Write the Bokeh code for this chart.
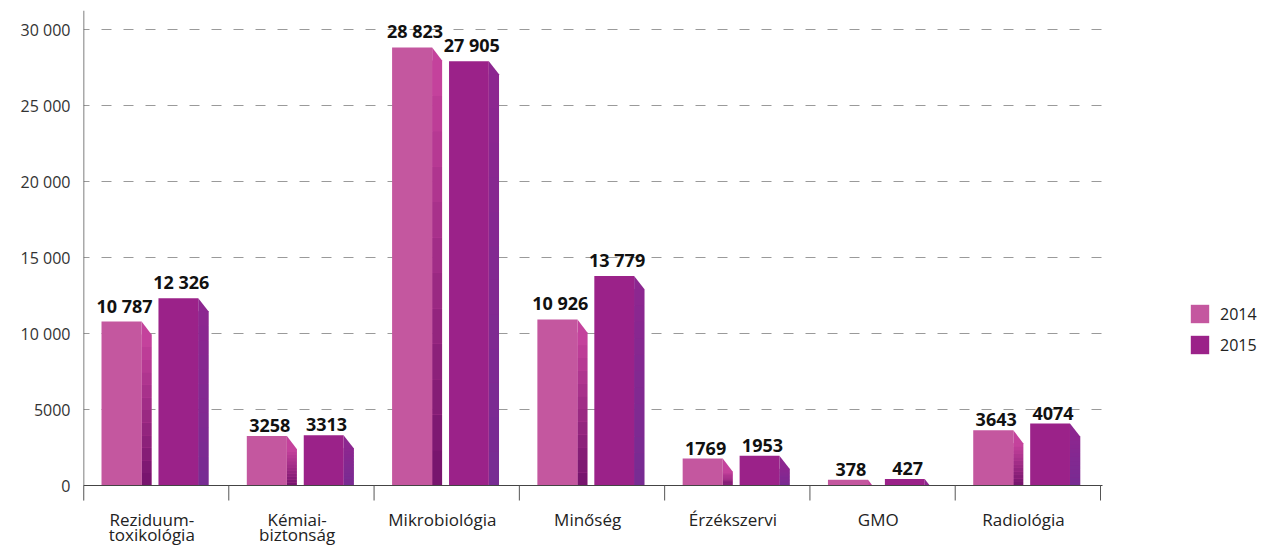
from bokeh.plotting import figure
from bokeh.models import Range1d, FixedTicker, ColumnDataSource, Legend, LegendItem
from bokeh.core.properties import value
from bokeh.embed import file_html
from bokeh.resources import INLINE

# ---------------- data ----------------
categories = ["Reziduum-\ntoxikológia", "Kémiai-\nbiztonság", "Mikrobiológia", "Minőség",
              "Érzékszervi", "GMO", "Radiológia"]
values_2014 = [10787, 3258, 28823, 10926, 1769, 378, 3643]
values_2015 = [12326, 3313, 27905, 13779, 1953, 427, 4074]
series_names = ["2014", "2015"]
y_ticks = [0, 5000, 10000, 15000, 20000, 25000, 30000]

FONT = "Open Sans"

# ---------------- layout constants (pixels) ----------------
W, H = 1262, 549
frame_left = 83
frame_top = 10
zero_y = 485                                # y of value 0
axis_right = 1102
top_val = 31250
px_per_unit = (zero_y - frame_top) / top_val
y_start = -(H - zero_y) / px_per_unit
n = len(categories)
px_per_x = (1100 - 83) / n
x_axis_end = (axis_right - frame_left) / px_per_x
x_end = (W - frame_left) / px_per_x

def fmt(v):
    s = str(v)
    if v >= 10000:
        s = s[:-3] + " " + s[-3:]
    return s

p = figure(width=W, height=H, output_backend="svg", toolbar_location=None,
           x_range=Range1d(0, x_end), y_range=Range1d(y_start, top_val),
           min_border_left=frame_left, min_border_right=0,
           min_border_top=frame_top, min_border_bottom=0)
p.outline_line_color = None
p.background_fill_color = "white"
p.xaxis.visible = False
p.xgrid.visible = False
p.ygrid.visible = False

# y axis
ya = p.yaxis[0]
ya.ticker = FixedTicker(ticks=y_ticks)
ya.major_label_overrides = {t: fmt(t) if t >= 10000 else str(t) for t in y_ticks}
ya.axis_line_color = None
ya.major_tick_line_color = None
ya.major_tick_out = 0
ya.major_tick_in = 0
ya.minor_tick_line_color = None
ya.major_label_standoff = 13
ya.major_label_text_font = FONT
ya.major_label_text_font_size = "16px"
ya.major_label_text_color = "#333333"

# dashed horizontal grid lines (stop at the end of the x axis)
gy = y_ticks[1:]
p.segment(x0=[0] * len(gy), y0=gy, x1=[x_axis_end] * len(gy), y1=gy,
          line_color="#9a9a9a", line_width=1, line_dash="10 12", line_dash_offset=4)

# bar geometry in x units (relative to category start)
geom = [(0.124, 0.40, 0.468), (0.516, 0.79, 0.86)]
front_colors = ["#C4579F", "#9B2289"]
side_top = [(0xC4, 0x42, 0x9C), (0x8C, 0x27, 0x90)]
side_bot = [(0x78, 0x15, 0x6E), (0x78, 0x2C, 0x93)]
slant = 13 / px_per_unit
NB = 12

def hexc(c):
    return "#%02x%02x%02x" % c

front_renderers = []
for si, vals in enumerate([values_2014, values_2015]):
    l, r, sr = geom[si]
    lefts = [i + l for i in range(n)]
    rights = [i + r for i in range(n)]
    src = ColumnDataSource(dict(left=lefts, right=rights, top=vals, bottom=[0] * n))
    # side faces
    xs, ys = [], []
    for i, v in enumerate(vals):
        x0, x1 = i + r, i + sr
        if v > slant:
            xs.append([x0, x0, x1, x1]); ys.append([0, v, v - slant, 0])
        else:
            xs.append([x0, x0, x0 + (x1 - x0) * v / slant]); ys.append([0, v, 0])
    p.patches(xs=xs, ys=ys, fill_color=hexc(side_top[si]), line_color=None)
    # gradient bands on the side
    bl, br, bb, bt, bc = [], [], [], [], []
    for i, v in enumerate(vals):
        h = max(v - slant, 0)
        for k in range(NB):
            t = k / (NB - 1)
            c = tuple(int(side_bot[si][j] + (side_top[si][j] - side_bot[si][j]) * t) for j in range(3))
            bl.append(i + r); br.append(i + sr)
            bb.append(h * k / NB); bt.append(h * (k + 1) / NB + (1 if k < NB - 1 else 0))
            bc.append(hexc(c))
    p.quad(left=bl, right=br, bottom=bb, top=bt, fill_color=bc, line_color=None)
    fr = p.quad(left="left", right="right", top="top", bottom="bottom", source=src,
                fill_color=front_colors[si], line_color=None)
    front_renderers.append(fr)
    # value labels
    p.text(x=[i + (l + r) / 2 + 0.02 for i in range(n)], y=vals, text=[fmt(v) for v in vals],
           text_align="center", text_baseline="bottom", y_offset=-4,
           text_font=value(FONT), text_font_style="bold", text_font_size="18px",
           text_color="#111111")

# x axis line, tick marks, and y axis line
tick_len = 15 / px_per_unit
p.segment(x0=[0], y0=[0], x1=[x_axis_end], y1=[0], line_color="#444444", line_width=1)
p.segment(x0=list(range(n + 1)), y0=[0] * (n + 1), x1=list(range(n + 1)),
          y1=[-tick_len] * (n + 1), line_color="#555555", line_width=1)
p.segment(x0=[0], y0=[-tick_len], x1=[0], y1=[top_val], line_color="#555555", line_width=1.5)

# category labels (one or two lines)
line1 = [c.split("\n")[0] for c in categories]
line2 = [c.split("\n")[1] if "\n" in c else "" for c in categories]
xc = [i + 0.5 - 0.03 for i in range(n)]
for txt, off in [(line1, 22), (line2, 37)]:
    p.text(x=xc, y=[0] * n, text=txt, text_align="center", text_baseline="top", y_offset=off,
           text_font=value(FONT), text_font_size="17px", text_color="#222222")

legend = Legend(items=[LegendItem(label=series_names[i], renderers=[front_renderers[i]]) for i in range(2)],
                location=(1188 - frame_left, H - 356), glyph_width=23, glyph_height=23,
                label_standoff=9, spacing=8, padding=0, margin=0,
                border_line_color=None, background_fill_alpha=0,
                label_text_font=FONT, label_text_font_size="16px", label_text_color="#222222")
p.add_layout(legend, "center")

open("out.html", "w").write(file_html(p, INLINE))
